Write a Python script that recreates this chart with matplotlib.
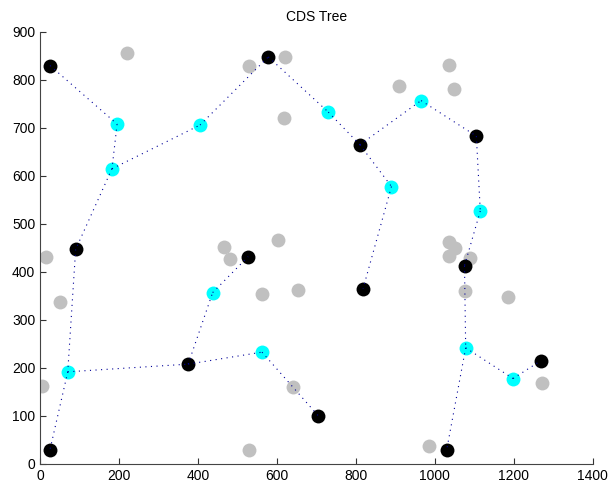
import matplotlib
matplotlib.use("Agg")
import matplotlib.pyplot as plt

# dominator nodes (black)
black_x = [25, 90, 25, 375, 527, 578, 810, 818, 1105, 1075, 1268, 1030, 705]
black_y = [830, 447, 30, 208, 432, 848, 665, 365, 683, 413, 215, 30, 100]

# connector nodes (cyan)
cyan_x = [195, 182, 405, 70, 437, 562, 730, 890, 965, 1115, 1078, 1198]
cyan_y = [708, 615, 706, 192, 357, 233, 733, 578, 757, 527, 242, 178]

# ordinary nodes (gray)
gray_x = [220, 530, 620, 617, 908, 1035, 1048, 15, 50, 5, 465, 480, 602,
          562, 652, 640, 528, 1035, 1050, 1035, 1088, 1075, 1185, 1272, 985]
gray_y = [857, 830, 847, 720, 788, 832, 782, 432, 337, 163, 452, 427, 467,
          355, 362, 160, 30, 462, 450, 433, 430, 360, 347, 168, 38]

# tree edges: ('b', i) black node i, ('c', i) cyan node i
edges = [
    (('b', 0), ('c', 0)), (('c', 0), ('c', 1)), (('c', 1), ('c', 2)),
    (('c', 2), ('b', 5)), (('c', 1), ('b', 1)), (('b', 1), ('c', 3)),
    (('c', 3), ('b', 2)), (('c', 3), ('b', 3)), (('b', 3), ('c', 4)),
    (('c', 4), ('b', 4)), (('b', 3), ('c', 5)), (('c', 5), ('b', 12)),
    (('b', 5), ('c', 6)), (('c', 6), ('b', 6)), (('b', 6), ('c', 8)),
    (('c', 8), ('b', 8)), (('b', 6), ('c', 7)), (('c', 7), ('b', 7)),
    (('b', 8), ('c', 9)), (('c', 9), ('b', 9)), (('b', 9), ('c', 10)),
    (('c', 10), ('b', 11)), (('c', 10), ('c', 11)), (('c', 11), ('b', 10)),
]


def node(n):
    kind, i = n
    if kind == 'b':
        return black_x[i], black_y[i]
    return cyan_x[i], cyan_y[i]


plt.rcParams['font.family'] = ['Liberation Sans', 'DejaVu Sans']
fig = plt.figure(figsize=(6.08, 4.91), dpi=100)
ax = fig.add_axes([0.066, 0.055, 0.909, 0.88])

ax.plot(gray_x, gray_y, 'o', color='#c0c0c0', markersize=10, markeredgewidth=0)
ax.plot(black_x, black_y, 'o', color='black', markersize=10, markeredgewidth=0)
ax.plot(cyan_x, cyan_y, 'o', color='#00ffff', markersize=10, markeredgewidth=0)

for a, b in edges:
    xa, ya = node(a)
    xb, yb = node(b)
    ax.plot([xa, xb], [ya, yb], linestyle=(0, (1, 4)), color='#000099',
            linewidth=0.8)

ax.set_xlim(0, 1400)
ax.set_ylim(0, 900)
ax.set_xticks(range(0, 1401, 200))
ax.set_yticks(range(0, 901, 100))
ax.tick_params(direction='in', length=4, labelsize=10, colors='#333333',
               labelcolor='black')
ax.spines['top'].set_visible(False)
ax.spines['right'].set_visible(False)
ax.spines['left'].set_color('#444444')
ax.spines['bottom'].set_color('#444444')
ax.set_title('CDS Tree', fontsize=10, pad=8)

fig.savefig('out.png', dpi=100)
